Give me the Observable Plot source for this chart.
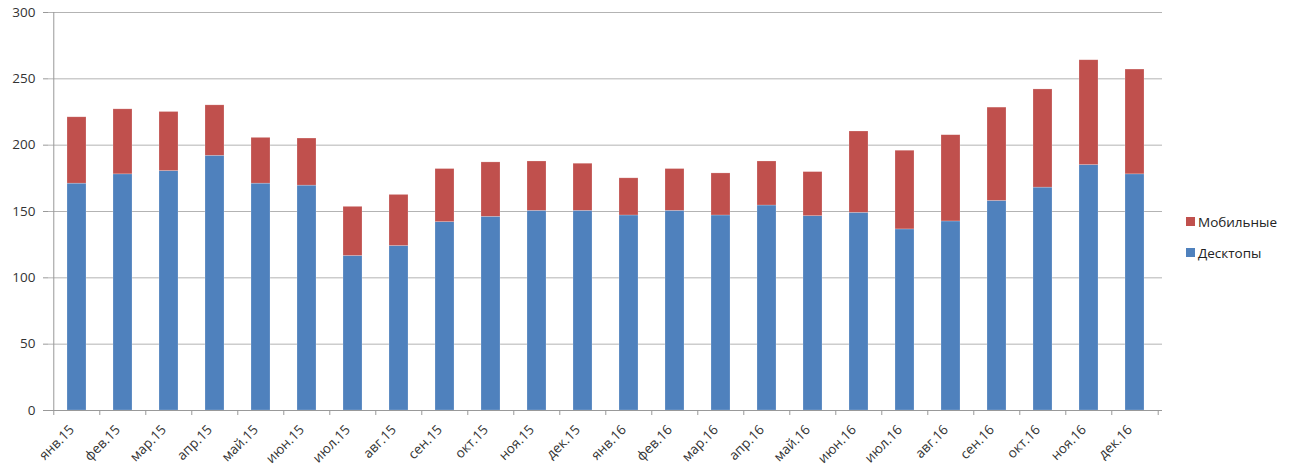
<!DOCTYPE html>
<html>
<head>
<meta charset="utf-8">
<script src="https://cdn.jsdelivr.net/npm/d3@7"></script>
<script src="https://cdn.jsdelivr.net/npm/@observablehq/plot@0.6"></script>
<style>
  html, body { margin: 0; padding: 0; background: #fff; }
  #wrap { position: relative; width: 1297px; height: 475px; }
  #legend { position: absolute; left: 1186px; top: 206px; font-family: "Open Sans", "Noto Sans", sans-serif; font-size: 13.5px; color: #222; }
  #legend .item { display: flex; align-items: center; height: 31px; }
  #legend .sw { width: 9px; height: 9px; margin-right: 3px; }
</style>
</head>
<body>
<div id="wrap">
  <div id="chart"></div>
  <div id="legend"></div>
</div>
<script>
const months = ["янв.15","фев.15","мар.15","апр.15","май.15","июн.15","июл.15","авг.15","сен.15","окт.15","ноя.15","дек.15",
                "янв.16","фев.16","мар.16","апр.16","май.16","июн.16","июл.16","авг.16","сен.16","окт.16","ноя.16","дек.16"];
const desktops = [171, 178, 180.5, 192, 171, 169.5, 116.5, 124, 142, 146, 150.5, 150.5,
                  147, 150.5, 147, 154.5, 146.5, 149, 136.5, 142.5, 158, 168, 185, 178];
const totals   = [221, 227, 225, 230, 205.5, 205, 153.5, 162.5, 182, 187, 187.7, 186,
                  175, 182, 178.7, 187.7, 179.7, 210.3, 195.8, 207.5, 228.3, 242, 264, 257];
const seriesNames = ["Десктопы", "Мобильные"];
const seriesColors = ["#4F81BD", "#C0504D"];
const yTicks = [0, 50, 100, 150, 200, 250, 300];

const rows = [];
months.forEach((m, i) => {
  rows.push({month: m, series: seriesNames[0], value: desktops[i]});
  rows.push({month: m, series: seriesNames[1], value: +(totals[i] - desktops[i]).toFixed(1)});
});

const W = 1297, H = 475;
const mL = 48, mR = 135;
const step = (W - mL - mR) / months.length;

const chart = Plot.plot({
  width: W,
  height: H,
  marginLeft: mL,
  marginRight: mR,
  marginTop: 12,
  marginBottom: 65,
  style: {fontFamily: "'Open Sans', 'Noto Sans', sans-serif", fontSize: "13px", color: "#333", background: "#fff"},
  x: {domain: months, paddingInner: 0.59, paddingOuter: 0.295, label: null},
  y: {domain: [0, 300], label: null},
  color: {domain: seriesNames, range: seriesColors},
  marks: [
    Plot.ruleY(yTicks, {stroke: "#b3b3b3", strokeWidth: 1}),
    Plot.barY(rows, Plot.stackY({x: "month", y: "value", fill: "series", order: seriesNames, stroke: "#fff", strokeOpacity: 0.35, strokeWidth: 0.6})),
    Plot.axisY({ticks: yTicks, tickSize: 5, tickPadding: 8, stroke: "#999", fontSize: 13.5}),
    Plot.ruleX([0], {x: () => months[0], dx: -step / 2, stroke: "#999"}),
    Plot.axisX({ticks: months, tickSize: 0, tickRotate: -45, tickPadding: 17, dx: -5, fontSize: 13.5}),
    Plot.axisX({ticks: months, tickSize: 5, dx: -step / 2, text: null, stroke: "#999"}),
    Plot.axisX({ticks: [months[months.length - 1]], tickSize: 5, dx: step / 2, text: null, stroke: "#999"}),
    Plot.ruleY([0], {stroke: "#999"})
  ]
});
document.getElementById("chart").appendChild(chart);

const legend = document.getElementById("legend");
[1, 0].forEach(i => {
  const it = document.createElement("div");
  it.className = "item";
  const sw = document.createElement("span");
  sw.className = "sw";
  sw.style.background = seriesColors[i];
  const t = document.createElement("span");
  t.textContent = seriesNames[i];
  it.appendChild(sw); it.appendChild(t);
  legend.appendChild(it);
});
</script>
</body>
</html>
